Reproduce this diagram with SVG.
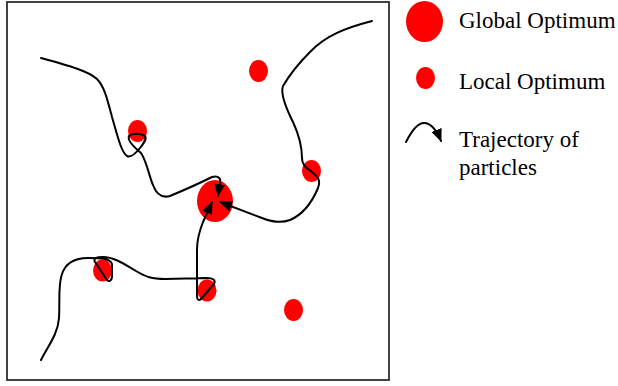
<svg xmlns="http://www.w3.org/2000/svg" width="618" height="386" viewBox="0 0 618 386">
  <style>
    .frame { fill: #ffffff; stroke: #2e2e2e; stroke-width: 1.8; }
    .opt { fill: #ff0000; }
    .traj { fill: none; stroke: #000000; stroke-width: 2; stroke-linecap: round; stroke-linejoin: round; }
    .label { font-family: "Liberation Serif", "Times New Roman", serif; font-size: 23px; fill: #000000; }
  </style>
  <defs>
    <marker id="head" viewBox="0 0 12 10" refX="11" refY="5" markerWidth="13" markerHeight="11" markerUnits="userSpaceOnUse" orient="auto">
      <path d="M0,0 L12,5 L0,10 Z" fill="#000000"/>
    </marker>
  </defs>

  <rect class="frame" x="7" y="2" width="382" height="378"/>

  <!-- optima -->
  <g id="global-optimum">
    <ellipse class="opt" cx="215" cy="201" rx="18" ry="21"/>
  </g>
  <g id="local-1"><ellipse class="opt" cx="137.5" cy="131" rx="9.5" ry="11"/></g>
  <g id="local-2"><ellipse class="opt" cx="258.5" cy="71" rx="9.5" ry="11"/></g>
  <g id="local-3"><ellipse class="opt" cx="311.5" cy="171" rx="9.5" ry="11"/></g>
  <g id="local-4"><ellipse class="opt" cx="102.5" cy="270.5" rx="9.5" ry="11"/></g>
  <g id="local-5"><ellipse class="opt" cx="207" cy="290.5" rx="9.5" ry="11"/></g>
  <g id="local-6"><ellipse class="opt" cx="293.5" cy="310" rx="9.5" ry="11"/></g>

  <!-- particle trajectories -->
  <g id="connectors">
    <path class="traj" marker-end="url(#head)"
      d="M41,58 C70,66 88,71 97,79 C104,86 107,98 112,117 C117,134 121,152 127,156
         C131,158 136,153 140,148 C144,143 147,139 145,136 C140,133 132,133 129,136
         C127,140 135,148 141,153 C147,162 149,176 153,185 C157,196 163,198 170,196
         C182,191 200,183 212,177 C219,175 221,179 220,183 L218,196"/>
    <path class="traj" marker-end="url(#head)"
      d="M372,21 C345,28 325,36 310,52 C298,64 290,74 283,86 C280,94 286,108 293,122
         C299,135 302,148 302,158 C302,166 307,168 312,172 C318,177 321,180 318,188
         C313,200 304,214 290,220 C282,223 272,222 262,218 L220,202"/>
    <path class="traj" marker-end="url(#head)"
      d="M41,360 C48,346 58,334 59,318 C60,300 58,284 62,274 C66,262 76,258 88,258
         C100,258 110,258 112,264 L112,276 C112,281 109,282 107,280 L95,262
         C93,258 97,257 103,257 C115,257 127,266 136,271 C146,277 152,279 165,279
         L207,278 C213,278 216,280 214,284 L201,299 C199,301 197,300 197,296
         L197,250 C197,240 199,232 203,222 L212,202"/>
  </g>

  <!-- legend -->
  <g id="legend-global">
    <ellipse class="opt" cx="424.5" cy="21.5" rx="18.5" ry="20.5"/>
    <text class="label" x="459" y="28">Global Optimum</text>
  </g>
  <g id="legend-local">
    <ellipse class="opt" cx="425.5" cy="78" rx="9.5" ry="11"/>
    <text class="label" x="459" y="89">Local Optimum</text>
  </g>
  <g id="legend-trajectory">
    <path class="traj" marker-end="url(#head)" d="M406,142 C412,130 418,122 425,123 C432,124 437,131 441,141"/>
    <text class="label" x="459" y="147">Trajectory of</text>
    <text class="label" x="459" y="175">particles</text>
  </g>
</svg>
